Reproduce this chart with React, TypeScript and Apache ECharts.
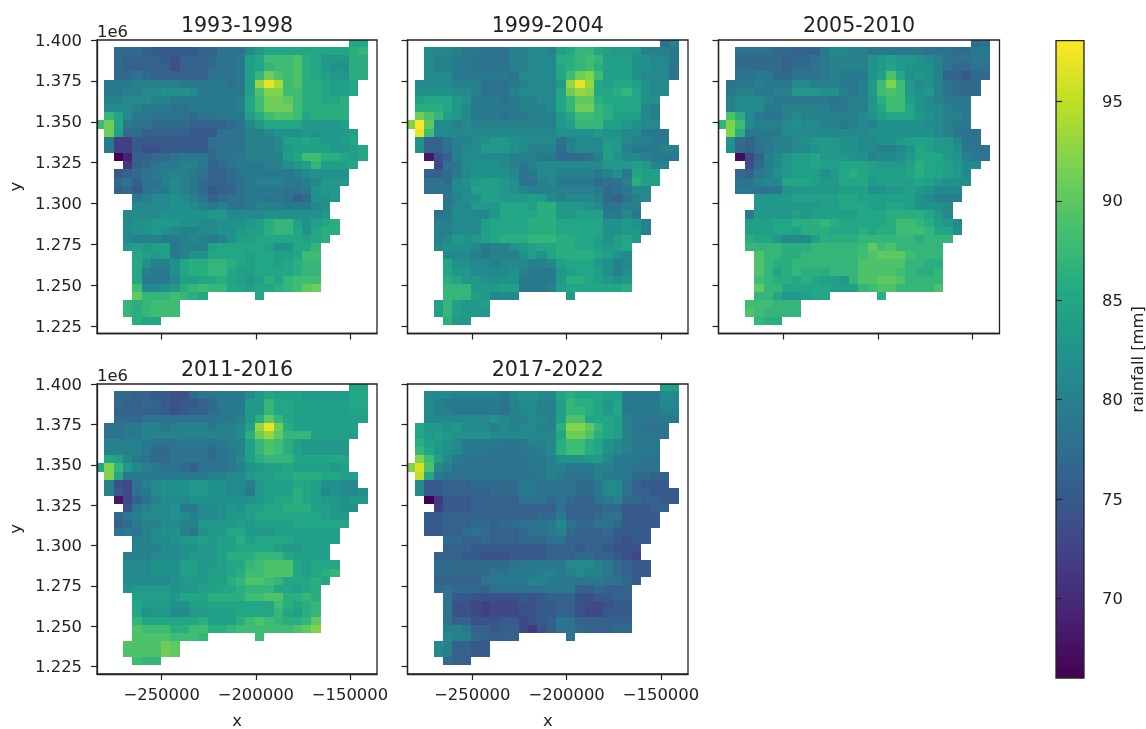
import React, { useEffect, useRef } from "react";
import * as echarts from "echarts";

const titles = ["1993-1998", "1999-2004", "2005-2010", "2011-2016", "2017-2022"];
const xTicks = [-250000, -200000, -150000];
const yTicks = [1.225, 1.25, 1.275, 1.3, 1.325, 1.35, 1.375, 1.4];
const barTicks = [70, 75, 80, 85, 90, 95];
const viridis = ["#440154", "#482475", "#414487", "#355f8d", "#2a788e", "#21918c", "#22a884", "#44bf70", "#7ad151", "#bddf26", "#fde725"];
// first occupied column of each raster row (0 is the northernmost row)
const rowStarts = [27, 2, 2, 2, 2, 1, 1, 1, 1, 1, 0, 1, 1, 1, 2, 3, 2, 2, 2, 4, 4, 3, 3, 3, 3, 3, 4, 4, 4, 4, 4, 4, 3, 3, 4];

const p1993 = [
  [85, 85],
  [77, 77, 77, 76, 75, 75, 75, 75, 75, 76, 76, 78, 78, 78, 81, 83, 85, 85, 85, 85, 85, 85, 85, 85, 85, 86, 87],
  [77, 76, 76, 76, 76, 75, 74, 76, 76, 76, 77, 78, 78, 79, 84, 85, 88, 88, 88, 89, 86, 85, 83, 83, 83, 86, 86],
  [77, 76, 76, 76, 76, 76, 74, 76, 76, 76, 77, 78, 78, 79, 84, 85, 87, 88, 88, 89, 86, 85, 83, 82, 82, 86, 86],
  [77, 77, 78, 77, 76, 76, 76, 76, 76, 76, 78, 78, 78, 79, 84, 87, 91, 89, 88, 89, 86, 85, 84, 83, 83, 86, 86],
  [79, 79, 79, 80, 80, 80, 80, 80, 79, 79, 79, 79, 79, 78, 79, 84, 93, 97, 94, 88, 89, 86, 86, 85, 84, 84, 85],
  [79, 79, 80, 80, 81, 81, 82, 82, 82, 81, 79, 79, 79, 79, 79, 84, 89, 92, 92, 88, 88, 86, 86, 85, 84, 84, 85],
  [80, 80, 81, 81, 81, 80, 80, 79, 79, 79, 79, 79, 79, 79, 80, 85, 88, 91, 91, 90, 88, 86, 86, 85, 85, 86],
  [81, 81, 81, 80, 79, 79, 79, 78, 78, 79, 79, 79, 79, 79, 80, 85, 88, 91, 91, 91, 88, 86, 86, 86, 86, 86],
  [87, 85, 81, 79, 79, 78, 78, 78, 78, 77, 78, 78, 79, 79, 79, 84, 86, 88, 89, 89, 88, 85, 86, 86, 86, 86],
  [88, 91, 85, 79, 78, 78, 77, 77, 77, 77, 76, 76, 76, 76, 77, 78, 81, 83, 85, 85, 85, 85, 83, 83, 83, 83, 84],
  [91, 84, 77, 77, 76, 76, 76, 76, 76, 75, 75, 75, 78, 78, 78, 80, 80, 81, 82, 82, 82, 83, 82, 83, 83, 83, 84],
  [79, 72, 72, 75, 75, 75, 75, 75, 75, 75, 75, 78, 78, 78, 78, 80, 80, 80, 81, 84, 84, 85, 84, 83, 83, 84, 85],
  [79, 72, 72, 75, 74, 74, 75, 75, 75, 75, 75, 77, 78, 78, 78, 80, 80, 80, 81, 83, 84, 84, 84, 84, 83, 83, 84, 85],
  [66, 69, 76, 76, 77, 77, 78, 79, 79, 79, 77, 78, 78, 79, 80, 80, 80, 80, 84, 85, 88, 88, 86, 86, 85, 84, 85],
  [71, 76, 77, 78, 79, 79, 80, 80, 79, 76, 77, 78, 79, 79, 79, 80, 80, 82, 83, 84, 87, 84, 84, 84, 85],
  [75, 76, 77, 78, 79, 80, 80, 80, 79, 78, 76, 76, 77, 78, 79, 79, 79, 79, 79, 80, 81, 82, 82, 82, 82],
  [77, 78, 76, 78, 78, 80, 81, 80, 79, 77, 76, 76, 77, 78, 79, 80, 80, 80, 79, 79, 80, 81, 83, 83, 83],
  [76, 77, 75, 78, 79, 79, 81, 80, 79, 77, 75, 76, 76, 78, 79, 79, 79, 79, 78, 78, 79, 82, 83, 83],
  [79, 80, 81, 81, 82, 81, 80, 78, 76, 77, 78, 78, 79, 79, 78, 79, 78, 76, 77, 82, 82, 83],
  [81, 81, 81, 81, 82, 82, 81, 80, 79, 80, 78, 78, 79, 80, 80, 80, 79, 79, 79, 81, 82],
  [81, 81, 81, 81, 82, 82, 82, 82, 82, 83, 83, 81, 81, 81, 81, 82, 82, 82, 82, 82, 82, 83],
  [81, 82, 82, 83, 83, 83, 82, 82, 81, 81, 82, 82, 82, 83, 84, 86, 87, 87, 84, 82, 84, 85, 86],
  [81, 82, 82, 83, 82, 81, 80, 80, 81, 81, 82, 82, 83, 84, 84, 86, 87, 87, 85, 82, 85, 86, 86],
  [81, 80, 80, 80, 79, 79, 80, 81, 80, 79, 80, 82, 84, 84, 85, 85, 85, 85, 85, 84, 85, 86],
  [83, 84, 83, 84, 84, 79, 80, 80, 80, 84, 85, 85, 85, 85, 85, 84, 82, 82, 85, 85, 87],
  [85, 84, 83, 84, 79, 80, 82, 82, 85, 85, 85, 85, 84, 85, 85, 84, 84, 85, 88, 88],
  [85, 82, 80, 80, 82, 85, 86, 86, 87, 87, 86, 85, 84, 85, 85, 84, 85, 86, 87, 87],
  [85, 80, 79, 79, 82, 85, 86, 86, 87, 87, 85, 84, 84, 85, 85, 85, 85, 86, 87, 87],
  [85, 79, 79, 79, 81, 84, 84, 85, 85, 86, 85, 84, 83, 84, 86, 85, 87, 88, 88, 88],
  [88, 81, 81, 82, 83, 86, 87, 88, 87, 87, 85, 85, 84, 85, 85, 86, 87, 88, 90, 91],
  [90, 87, 87, 87, 88, 87, 86, 85, 0, 0, 0, 0, 0, 85],
  [87, 86, 87, 88, 88, 88],
  [87, 86, 87, 88, 88, 88],
  [86, 85, 85],
];

const p1999 = [
  [78, 80],
  [81, 81, 81, 80, 79, 79, 78, 78, 78, 80, 80, 81, 81, 80, 84, 85, 87, 87, 85, 84, 83, 83, 83, 80, 80, 80, 79],
  [81, 80, 80, 79, 79, 78, 78, 78, 78, 80, 80, 81, 81, 81, 86, 86, 87, 88, 87, 84, 84, 84, 82, 82, 81, 81, 79],
  [81, 80, 80, 79, 79, 78, 78, 78, 78, 80, 80, 81, 81, 81, 85, 86, 87, 88, 86, 84, 84, 84, 82, 82, 81, 81, 78],
  [81, 81, 81, 79, 79, 79, 79, 79, 79, 78, 81, 81, 81, 81, 85, 88, 91, 92, 88, 84, 84, 84, 82, 81, 81, 81, 78],
  [81, 81, 81, 81, 80, 80, 80, 78, 78, 78, 79, 80, 81, 81, 81, 83, 93, 97, 93, 85, 84, 85, 85, 84, 82, 81, 81],
  [82, 82, 82, 82, 81, 81, 80, 78, 78, 78, 80, 81, 81, 81, 81, 85, 91, 93, 92, 85, 85, 86, 87, 85, 82, 81, 81],
  [84, 85, 85, 85, 83, 82, 79, 79, 79, 78, 79, 80, 80, 81, 81, 85, 87, 90, 90, 86, 85, 85, 85, 85, 82, 82],
  [86, 86, 86, 85, 83, 81, 79, 79, 79, 79, 79, 80, 80, 80, 81, 85, 87, 91, 91, 87, 86, 85, 85, 85, 81, 80],
  [91, 89, 87, 84, 83, 81, 79, 79, 79, 78, 79, 79, 80, 80, 80, 83, 85, 88, 88, 87, 86, 84, 84, 84, 81, 80],
  [92, 98, 90, 81, 81, 80, 81, 80, 80, 80, 80, 80, 80, 80, 80, 80, 83, 84, 87, 87, 87, 84, 84, 83, 82, 81, 81],
  [97, 88, 81, 81, 81, 81, 81, 81, 81, 81, 81, 81, 81, 81, 81, 82, 82, 82, 82, 83, 82, 82, 81, 81, 79, 79, 79],
  [82, 76, 76, 78, 80, 80, 81, 82, 83, 83, 82, 81, 81, 81, 81, 78, 80, 81, 81, 81, 83, 83, 81, 80, 80, 79, 79],
  [82, 76, 76, 78, 80, 81, 81, 83, 83, 83, 82, 81, 80, 80, 80, 77, 80, 81, 81, 81, 84, 83, 80, 79, 79, 79, 80, 80],
  [68, 74, 76, 80, 81, 81, 81, 81, 81, 80, 80, 80, 79, 79, 77, 77, 77, 78, 80, 84, 82, 81, 81, 80, 79, 79, 79],
  [73, 78, 79, 81, 82, 82, 82, 81, 80, 79, 80, 81, 81, 81, 81, 81, 81, 81, 83, 83, 83, 84, 83, 80, 80],
  [76, 76, 77, 79, 81, 82, 82, 82, 82, 81, 78, 79, 81, 81, 80, 80, 80, 80, 79, 80, 82, 79, 85, 84, 84],
  [78, 78, 77, 81, 82, 83, 84, 84, 83, 82, 78, 78, 80, 81, 79, 79, 79, 79, 77, 78, 78, 80, 86, 84, 84],
  [78, 78, 78, 81, 81, 84, 84, 84, 83, 82, 81, 80, 80, 80, 80, 80, 80, 80, 79, 77, 78, 79, 81, 81],
  [78, 80, 82, 82, 84, 84, 83, 83, 83, 84, 83, 81, 80, 81, 81, 81, 80, 77, 76, 78, 80, 81],
  [79, 81, 81, 83, 83, 83, 85, 85, 85, 84, 86, 86, 83, 83, 83, 82, 81, 78, 78, 80, 80],
  [78, 79, 81, 81, 81, 81, 83, 85, 85, 85, 85, 86, 86, 83, 83, 84, 84, 84, 79, 79, 81, 79],
  [80, 80, 81, 81, 81, 84, 85, 85, 85, 85, 86, 86, 86, 85, 85, 85, 85, 85, 82, 82, 83, 82, 80],
  [80, 80, 81, 81, 81, 84, 85, 85, 85, 85, 86, 86, 86, 85, 85, 85, 85, 85, 82, 82, 83, 83, 80],
  [80, 81, 83, 82, 83, 84, 85, 86, 86, 86, 87, 87, 87, 86, 86, 85, 85, 84, 82, 84, 85, 83],
  [81, 82, 82, 82, 81, 79, 80, 80, 82, 83, 84, 85, 85, 86, 86, 85, 85, 84, 83, 84, 85],
  [81, 81, 81, 80, 79, 80, 80, 80, 82, 84, 82, 85, 86, 86, 86, 86, 85, 84, 82, 81],
  [85, 82, 82, 81, 81, 80, 81, 81, 81, 80, 80, 81, 84, 85, 85, 85, 83, 82, 80, 81],
  [85, 83, 83, 81, 81, 81, 81, 82, 80, 79, 79, 79, 83, 84, 85, 85, 84, 82, 80, 82],
  [86, 85, 83, 83, 82, 82, 82, 82, 79, 79, 79, 79, 83, 86, 86, 85, 84, 83, 82, 83],
  [87, 87, 87, 83, 83, 83, 84, 84, 79, 79, 79, 80, 84, 85, 85, 85, 85, 85, 85, 86],
  [87, 87, 87, 84, 83, 81, 81, 81, 0, 0, 0, 0, 0, 83],
  [84, 87, 84, 83, 83, 84],
  [84, 87, 84, 83, 83, 83],
  [86, 83, 83],
];

const p2005 = [
  [77, 78],
  [78, 78, 78, 78, 77, 77, 76, 76, 76, 79, 81, 81, 80, 80, 79, 79, 79, 79, 79, 79, 78, 78, 78, 77, 77, 79, 79],
  [77, 77, 77, 77, 77, 76, 77, 77, 78, 79, 80, 80, 80, 80, 82, 83, 84, 83, 83, 82, 81, 80, 78, 78, 78, 79, 78],
  [77, 77, 77, 77, 77, 76, 77, 77, 78, 79, 80, 80, 80, 80, 82, 83, 85, 83, 82, 82, 82, 80, 78, 77, 77, 78, 78],
  [78, 78, 79, 79, 77, 77, 78, 78, 78, 79, 80, 79, 79, 79, 82, 84, 89, 85, 82, 83, 82, 80, 76, 76, 75, 77, 77],
  [78, 79, 79, 80, 79, 79, 79, 81, 81, 80, 80, 80, 79, 79, 80, 83, 88, 92, 88, 83, 81, 82, 80, 78, 77, 77, 77],
  [79, 80, 80, 79, 79, 80, 80, 83, 83, 83, 82, 82, 80, 79, 80, 83, 88, 89, 88, 83, 82, 83, 80, 78, 77, 77, 77],
  [80, 81, 81, 81, 80, 79, 79, 79, 79, 79, 79, 78, 79, 80, 80, 82, 86, 88, 88, 84, 82, 81, 80, 79, 79, 79],
  [80, 81, 81, 81, 79, 79, 80, 80, 80, 80, 80, 79, 79, 80, 80, 83, 85, 88, 88, 85, 82, 81, 81, 80, 79, 79],
  [89, 86, 81, 79, 78, 78, 80, 81, 80, 80, 80, 80, 80, 80, 81, 82, 84, 85, 85, 85, 83, 82, 81, 80, 80, 79],
  [87, 92, 88, 81, 80, 80, 80, 81, 82, 81, 81, 80, 80, 79, 80, 81, 80, 82, 82, 82, 82, 82, 81, 81, 80, 79, 79],
  [92, 86, 79, 79, 79, 79, 81, 81, 81, 81, 81, 81, 81, 81, 81, 82, 82, 82, 82, 82, 82, 82, 81, 80, 78, 78, 78],
  [82, 77, 76, 78, 79, 80, 80, 81, 82, 83, 83, 83, 82, 82, 81, 81, 82, 82, 83, 84, 84, 84, 83, 83, 81, 78, 78],
  [82, 77, 76, 78, 79, 80, 80, 81, 81, 82, 83, 83, 82, 82, 81, 81, 80, 80, 81, 82, 85, 84, 83, 83, 82, 79, 78, 78],
  [67, 73, 76, 80, 81, 83, 84, 84, 85, 83, 83, 83, 82, 82, 80, 81, 81, 82, 83, 85, 85, 85, 83, 82, 80, 79, 78],
  [74, 77, 80, 81, 83, 84, 84, 85, 84, 84, 85, 85, 85, 84, 83, 83, 83, 84, 86, 85, 85, 84, 83, 81, 81],
  [77, 76, 79, 80, 82, 83, 84, 84, 84, 82, 83, 85, 86, 85, 84, 84, 84, 84, 85, 86, 85, 85, 84, 83, 81],
  [78, 78, 80, 81, 81, 85, 85, 85, 84, 83, 83, 85, 85, 85, 83, 84, 84, 84, 84, 85, 84, 83, 82, 82, 82],
  [79, 79, 78, 78, 79, 82, 83, 83, 83, 83, 83, 84, 84, 84, 82, 82, 83, 83, 84, 83, 82, 81, 81, 81],
  [83, 83, 83, 83, 84, 84, 84, 84, 84, 85, 85, 84, 84, 84, 84, 84, 84, 82, 81, 80, 80, 80],
  [83, 83, 83, 83, 83, 83, 83, 84, 84, 85, 85, 85, 84, 84, 85, 85, 84, 82, 82, 82, 81],
  [79, 83, 83, 83, 83, 84, 83, 84, 84, 84, 84, 84, 85, 85, 85, 86, 86, 86, 86, 85, 83, 81],
  [84, 84, 84, 85, 85, 86, 86, 86, 87, 86, 85, 85, 85, 85, 85, 86, 88, 88, 87, 86, 84, 83, 81],
  [84, 84, 84, 85, 85, 84, 86, 86, 86, 85, 85, 85, 86, 85, 86, 86, 88, 88, 88, 87, 85, 85, 82],
  [86, 85, 85, 83, 81, 81, 81, 84, 86, 86, 86, 86, 87, 87, 87, 87, 87, 87, 86, 87, 87, 87],
  [87, 87, 87, 87, 86, 86, 86, 87, 87, 87, 87, 87, 88, 90, 88, 89, 87, 87, 87, 87, 87],
  [89, 87, 87, 86, 86, 87, 87, 87, 87, 87, 87, 88, 89, 90, 90, 90, 88, 87, 87, 87],
  [89, 87, 86, 86, 87, 87, 87, 87, 87, 87, 87, 89, 89, 89, 89, 89, 87, 87, 86, 86],
  [89, 87, 85, 86, 87, 86, 86, 86, 87, 87, 87, 89, 89, 89, 89, 88, 87, 86, 86, 87],
  [88, 87, 86, 86, 85, 86, 85, 84, 84, 83, 87, 89, 89, 90, 90, 89, 87, 87, 87, 87],
  [90, 87, 87, 85, 85, 85, 85, 85, 84, 84, 84, 87, 88, 89, 89, 87, 87, 87, 87, 89],
  [87, 87, 85, 83, 83, 84, 85, 85, 0, 0, 0, 0, 0, 86],
  [88, 88, 88, 87, 87, 87],
  [89, 88, 87, 87, 87, 87],
  [87, 86, 86],
];

const p2011 = [
  [85, 85],
  [77, 77, 76, 76, 75, 75, 74, 74, 77, 78, 78, 79, 79, 79, 81, 83, 85, 84, 84, 84, 83, 83, 83, 83, 83, 85, 85],
  [77, 76, 76, 77, 76, 75, 74, 75, 75, 76, 77, 79, 79, 79, 83, 83, 87, 85, 85, 84, 84, 84, 84, 84, 84, 85, 85],
  [76, 76, 76, 76, 76, 75, 74, 75, 76, 76, 77, 78, 79, 79, 83, 83, 87, 85, 85, 84, 84, 84, 84, 84, 84, 85, 85],
  [77, 77, 77, 78, 78, 78, 78, 78, 78, 78, 78, 79, 79, 80, 83, 86, 90, 87, 85, 84, 84, 84, 84, 84, 84, 84, 84],
  [78, 78, 79, 79, 80, 80, 79, 80, 80, 80, 80, 79, 80, 80, 81, 84, 93, 97, 91, 86, 84, 84, 84, 84, 84, 84, 84],
  [78, 78, 79, 79, 80, 80, 80, 80, 80, 80, 80, 80, 80, 80, 81, 86, 91, 93, 90, 87, 87, 87, 84, 84, 84, 84, 84],
  [80, 80, 80, 80, 79, 78, 78, 78, 79, 79, 79, 78, 79, 80, 80, 84, 87, 89, 88, 86, 84, 83, 83, 83, 83, 83],
  [80, 80, 80, 80, 79, 77, 77, 78, 78, 78, 78, 77, 78, 79, 80, 84, 87, 89, 88, 86, 84, 83, 83, 83, 83, 83],
  [85, 84, 81, 79, 78, 77, 77, 78, 78, 78, 78, 77, 78, 79, 81, 84, 86, 87, 87, 87, 85, 85, 85, 85, 85, 85],
  [85, 92, 87, 83, 81, 80, 79, 78, 78, 77, 76, 78, 78, 78, 79, 80, 82, 83, 84, 84, 85, 84, 84, 84, 84, 83, 84],
  [92, 85, 79, 79, 79, 79, 79, 79, 79, 79, 79, 80, 80, 81, 81, 83, 84, 84, 85, 85, 86, 86, 86, 85, 85, 84, 84],
  [80, 74, 73, 78, 80, 81, 82, 82, 82, 83, 83, 82, 82, 81, 81, 80, 83, 84, 84, 84, 85, 85, 84, 82, 82, 81, 81],
  [80, 75, 73, 78, 79, 81, 82, 82, 82, 83, 83, 82, 82, 81, 81, 79, 83, 84, 84, 84, 86, 85, 84, 81, 82, 81, 81, 82],
  [68, 73, 76, 78, 80, 81, 81, 81, 82, 82, 82, 82, 82, 82, 82, 83, 84, 85, 85, 86, 85, 84, 83, 83, 82, 83, 83],
  [74, 79, 80, 81, 81, 82, 79, 79, 81, 81, 82, 83, 82, 84, 84, 85, 85, 86, 86, 86, 84, 84, 83, 82, 82],
  [77, 79, 80, 81, 81, 81, 82, 81, 80, 81, 81, 82, 83, 83, 84, 85, 85, 85, 85, 85, 85, 85, 84, 83, 83],
  [76, 77, 79, 80, 80, 81, 81, 80, 80, 83, 83, 83, 83, 84, 83, 84, 84, 84, 84, 85, 85, 85, 85, 85, 85],
  [78, 79, 78, 80, 81, 82, 82, 80, 79, 82, 83, 83, 85, 85, 83, 83, 83, 84, 84, 84, 84, 84, 84, 84],
  [80, 80, 81, 81, 82, 83, 83, 84, 83, 84, 84, 86, 84, 85, 85, 85, 85, 84, 84, 84, 84, 84],
  [80, 80, 80, 81, 81, 82, 82, 83, 83, 84, 84, 85, 85, 85, 85, 84, 83, 83, 84, 84, 84],
  [80, 80, 80, 81, 81, 81, 82, 83, 83, 83, 84, 86, 86, 86, 87, 87, 87, 85, 84, 84, 84, 84],
  [81, 81, 81, 82, 82, 82, 84, 84, 83, 83, 84, 85, 85, 87, 88, 89, 89, 89, 85, 84, 85, 85, 85],
  [81, 81, 81, 82, 82, 82, 84, 84, 83, 84, 84, 85, 86, 88, 88, 89, 89, 89, 85, 84, 85, 86, 87],
  [81, 81, 81, 81, 81, 82, 83, 83, 83, 84, 84, 86, 87, 89, 89, 88, 87, 85, 85, 85, 86, 85],
  [82, 83, 83, 83, 83, 82, 83, 83, 84, 84, 85, 85, 86, 87, 87, 87, 85, 85, 84, 85, 86],
  [84, 84, 84, 84, 83, 85, 85, 85, 86, 86, 86, 86, 88, 88, 89, 89, 86, 86, 87, 86],
  [85, 83, 83, 83, 82, 82, 84, 84, 85, 85, 85, 85, 85, 85, 85, 88, 86, 85, 86, 87],
  [85, 82, 83, 83, 81, 81, 83, 83, 84, 84, 84, 85, 85, 85, 85, 87, 85, 84, 86, 87],
  [87, 85, 85, 85, 85, 85, 85, 86, 84, 84, 84, 86, 88, 89, 88, 87, 86, 86, 87, 90],
  [89, 88, 88, 88, 86, 86, 88, 88, 86, 86, 87, 88, 88, 88, 88, 88, 88, 89, 90, 92],
  [89, 89, 89, 89, 88, 88, 88, 87, 0, 0, 0, 0, 0, 88],
  [89, 89, 89, 89, 91, 90],
  [89, 89, 89, 89, 91, 90],
  [88, 87, 87],
];

const p2017 = [
  [84, 84],
  [81, 81, 81, 80, 80, 80, 80, 80, 79, 81, 82, 82, 81, 81, 85, 86, 85, 85, 85, 84, 84, 79, 79, 79, 79, 81, 81],
  [81, 80, 79, 79, 79, 79, 79, 79, 78, 80, 81, 81, 80, 80, 84, 87, 86, 86, 85, 83, 85, 79, 79, 79, 79, 81, 81],
  [81, 80, 80, 79, 79, 79, 79, 79, 78, 80, 81, 81, 80, 80, 84, 87, 87, 86, 85, 83, 85, 79, 79, 79, 79, 80, 80],
  [81, 81, 81, 81, 81, 81, 81, 82, 81, 80, 80, 81, 81, 80, 84, 89, 89, 85, 85, 85, 84, 80, 79, 79, 78, 79, 79],
  [85, 83, 83, 82, 83, 81, 81, 81, 80, 81, 80, 81, 81, 80, 80, 86, 92, 92, 90, 87, 85, 84, 80, 79, 78, 78, 78],
  [85, 83, 84, 83, 82, 82, 82, 82, 81, 81, 81, 81, 81, 81, 81, 85, 91, 91, 89, 86, 85, 84, 80, 79, 79, 78, 78],
  [86, 84, 83, 82, 81, 79, 79, 79, 79, 78, 78, 79, 80, 80, 81, 86, 88, 88, 86, 85, 82, 81, 80, 79, 79, 79],
  [87, 85, 83, 82, 81, 79, 79, 79, 78, 78, 78, 79, 79, 80, 81, 86, 88, 88, 86, 85, 82, 81, 80, 79, 79, 79],
  [92, 88, 84, 81, 79, 78, 78, 78, 78, 78, 78, 78, 79, 79, 80, 82, 82, 82, 83, 83, 81, 79, 79, 79, 78, 78],
  [92, 96, 89, 81, 80, 78, 78, 78, 78, 78, 78, 78, 78, 79, 79, 80, 80, 79, 79, 79, 80, 80, 79, 79, 78, 78, 78],
  [95, 85, 79, 78, 78, 78, 78, 78, 78, 78, 78, 78, 78, 79, 80, 79, 78, 78, 78, 80, 79, 79, 79, 77, 77, 76, 76],
  [81, 75, 75, 76, 76, 76, 77, 77, 77, 77, 77, 79, 79, 78, 78, 78, 78, 77, 77, 79, 81, 81, 78, 76, 75, 75, 75],
  [81, 75, 75, 76, 76, 76, 76, 76, 77, 77, 77, 79, 79, 78, 78, 78, 78, 77, 77, 79, 81, 81, 78, 76, 76, 75, 75, 75],
  [66, 71, 75, 75, 75, 76, 76, 76, 76, 76, 78, 78, 78, 77, 78, 77, 76, 76, 78, 79, 80, 77, 77, 76, 76, 75, 75],
  [72, 75, 75, 75, 76, 76, 76, 76, 76, 76, 76, 76, 76, 78, 76, 76, 76, 76, 77, 77, 75, 75, 75, 76, 76],
  [75, 75, 76, 76, 76, 76, 76, 76, 76, 76, 76, 76, 77, 77, 79, 76, 76, 76, 77, 78, 78, 75, 75, 75, 75],
  [75, 75, 76, 76, 76, 77, 77, 76, 77, 77, 78, 78, 78, 79, 81, 78, 77, 77, 78, 78, 77, 75, 75, 75, 75],
  [75, 75, 76, 76, 77, 78, 77, 76, 76, 76, 77, 78, 78, 79, 80, 77, 76, 76, 76, 77, 75, 75, 75, 75],
  [77, 77, 76, 76, 77, 76, 76, 76, 77, 77, 77, 78, 78, 76, 76, 76, 76, 76, 75, 74, 75, 75],
  [76, 76, 76, 75, 75, 75, 75, 75, 75, 75, 75, 76, 76, 76, 75, 76, 76, 75, 74, 74, 74],
  [76, 76, 76, 75, 75, 74, 74, 74, 75, 75, 75, 75, 76, 76, 76, 77, 77, 76, 76, 75, 74, 73],
  [77, 77, 77, 77, 77, 77, 77, 77, 78, 79, 79, 79, 79, 79, 81, 81, 81, 80, 79, 77, 76, 75, 75],
  [77, 77, 77, 77, 77, 77, 78, 78, 79, 79, 79, 80, 80, 79, 80, 81, 80, 80, 79, 77, 76, 75, 75],
  [76, 76, 76, 76, 76, 78, 79, 79, 79, 79, 80, 80, 79, 79, 79, 78, 79, 79, 78, 78, 77, 75],
  [77, 78, 77, 77, 77, 76, 78, 78, 78, 78, 78, 78, 79, 79, 79, 76, 76, 77, 76, 76, 76],
  [78, 75, 75, 74, 74, 74, 74, 74, 75, 74, 75, 76, 76, 76, 74, 74, 75, 75, 76, 76],
  [79, 74, 74, 73, 72, 73, 73, 73, 74, 74, 75, 75, 76, 76, 74, 73, 73, 74, 75, 75],
  [78, 74, 74, 73, 72, 73, 73, 73, 74, 74, 75, 75, 76, 76, 74, 73, 73, 75, 75, 75],
  [78, 76, 76, 74, 74, 74, 75, 75, 73, 74, 75, 76, 79, 78, 76, 76, 76, 76, 76, 76],
  [80, 80, 79, 76, 76, 75, 76, 76, 73, 71, 74, 76, 78, 78, 77, 76, 76, 76, 77, 77],
  [81, 80, 80, 77, 76, 76, 76, 76, 0, 0, 0, 0, 0, 78],
  [81, 80, 76, 76, 75, 75],
  [81, 80, 76, 76, 75, 75],
  [77, 76, 76],
];

const panelData = [p1993, p1999, p2005, p2011, p2017];
const gridBoxes = [
  { left: 97, top: 40, width: 280, height: 293.5 },
  { left: 407.5, top: 40, width: 280.5, height: 293.5 },
  { left: 718.5, top: 40, width: 281, height: 293.5 },
  { left: 97, top: 384, width: 280, height: 294 },
  { left: 407.5, top: 384, width: 280.5, height: 294 },
];

const font = "DejaVu Sans";
const ink = "#222";
const cellW = 5000;
const cellH = 0.005;
const xEdge = -285500;
const yEdge = 1.4008;
const cbMin = 66;
const cbMax = 98.05;

function flatten(rows: number[][]) {
  const out: number[][] = [];
  rows.forEach((vals, r) => {
    vals.forEach((v, i) => {
      if (!v) return;
      const col = rowStarts[r] + i;
      out.push([xEdge + cellW * (col + 0.5), yEdge - cellH * (r + 0.5), v]);
    });
  });
  return out;
}

function pixelRect(a: number[], b: number[], fill: string) {
  const x0 = Math.round(a[0]);
  const y0 = Math.round(a[1]);
  const x1 = Math.round(b[0]);
  const y1 = Math.round(b[1]);
  return {
    type: "rect",
    shape: { x: x0, y: y0, width: x1 - x0, height: y1 - y0 },
    style: { fill },
  };
}

function renderCell(_: any, api: any) {
  const x = api.value(0);
  const y = api.value(1);
  const a = api.coord([x - cellW / 2, y + cellH / 2]);
  const b = api.coord([x + cellW / 2, y - cellH / 2]);
  return pixelRect(a, b, api.visual("color"));
}

function renderLevel(_: any, api: any) {
  const v = api.value(1);
  const a = api.coord([0, v + (cbMax - cbMin) / 256]);
  const b = api.coord([1, v]);
  return pixelRect(a, b, api.visual("color"));
}

export default function App() {
  const ref = useRef<HTMLDivElement>(null);
  useEffect(() => {
    document.body.style.margin = "0";
    document.body.style.background = "#fff";
    const chart = echarts.init(ref.current!, undefined, { renderer: "svg" });
    const labelStyle = { color: ink, fontFamily: font, fontSize: 16.4 };
    const grids: any[] = gridBoxes.map((b) => ({
      ...b,
      show: true,
      z: 5,
      backgroundColor: "transparent",
      borderColor: ink,
      borderWidth: 1.3,
      containLabel: false,
    }));
    const xAxes: any[] = gridBoxes.map((_, i) => ({
      type: "value",
      gridIndex: i,
      min: -284340,
      max: -135670,
      z: 5,
      splitLine: { show: false },
      axisLine: { show: true, onZero: false, lineStyle: { color: ink, width: 1.3 } },
      axisTick: { show: true, length: 6, customValues: xTicks, lineStyle: { color: ink, width: 1.2 } },
      axisLabel: {
        show: i >= 3,
        ...labelStyle,
        margin: 12,
        customValues: xTicks,
        formatter: (v: number) => String(v).replace("-", "\u2212"),
      },
      name: i >= 3 ? "x" : "",
      nameLocation: "middle",
      nameGap: 38,
      nameTextStyle: labelStyle,
    }));
    const yAxes: any[] = gridBoxes.map((_, i) => ({
      type: "value",
      gridIndex: i,
      min: 1.2205,
      max: 1.4,
      z: 5,
      splitLine: { show: false },
      axisLine: { show: true, onZero: false, lineStyle: { color: ink, width: 1.3 } },
      axisTick: { show: true, length: 6, customValues: yTicks, lineStyle: { color: ink, width: 1.2 } },
      axisLabel: {
        show: i === 0 || i === 3,
        ...labelStyle,
        margin: 15,
        customValues: yTicks,
        formatter: (v: number) => v.toFixed(3),
      },
      name: i === 0 || i === 3 ? "y" : "",
      nameLocation: "middle",
      nameGap: 74,
      nameTextStyle: labelStyle,
    }));
    grids.push({
      left: 1056,
      top: 40.7,
      width: 33,
      height: 637.3,
      show: true,
      z: 5,
      backgroundColor: "transparent",
      borderColor: ink,
      borderWidth: 1.3,
    });
    xAxes.push({ type: "value", gridIndex: 5, min: 0, max: 1, show: false });
    yAxes.push({
      type: "value",
      gridIndex: 5,
      min: cbMin,
      max: cbMax,
      position: "right",
      z: 5,
      splitLine: { show: false },
      axisLine: { show: false },
      axisTick: { show: true, length: 6, customValues: barTicks, lineStyle: { color: ink, width: 1.2 } },
      axisLabel: { ...labelStyle, margin: 18, customValues: barTicks, formatter: (v: number) => String(v) },
      name: "rainfall [mm]",
      nameLocation: "middle",
      nameGap: 45,
      nameRotate: 90,
      nameTextStyle: labelStyle,
    });

    const levels: number[][] = [];
    for (let i = 0; i < 256; i++) {
      const v = cbMin + ((cbMax - cbMin) * i) / 256;
      levels.push([0.5, v, v]);
    }

    const series: any[] = panelData.map((rows, i) => ({
      type: "custom",
      xAxisIndex: i,
      yAxisIndex: i,
      coordinateSystem: "cartesian2d",
      clip: true,
      renderItem: renderCell,
      encode: { x: 0, y: 1 },
      data: flatten(rows),
    }));
    series.push({
      type: "custom",
      xAxisIndex: 5,
      yAxisIndex: 5,
      coordinateSystem: "cartesian2d",
      clip: true,
      renderItem: renderLevel,
      encode: { x: 0, y: 1 },
      data: levels,
    });

    chart.setOption({
      animation: false,
      backgroundColor: "#fff",
      title: titles.map((t, i) => ({
        text: t,
        left: gridBoxes[i].left + gridBoxes[i].width / 2 - 5,
        top: gridBoxes[i].top - 31,
        textAlign: "center",
        textStyle: { color: ink, fontFamily: font, fontSize: 20.6, fontWeight: "normal" },
      })),
      grid: grids,
      xAxis: xAxes,
      yAxis: yAxes,
      visualMap: {
        show: false,
        type: "continuous",
        min: cbMin,
        max: cbMax,
        dimension: 2,
        seriesIndex: series.map((_, i) => i),
        inRange: { color: viridis },
      },
      graphic: [0, 3].map((i) => ({
        type: "text",
        x: gridBoxes[i].left,
        y: gridBoxes[i].top - 17,
        style: { text: "1e6", fill: ink, fontFamily: font, fontSize: 16.4 },
      })),
      series,
    });
    return () => chart.dispose();
  }, []);
  return <div ref={ref} style={{ position: "absolute", left: 0, top: 0, width: 1146, height: 729, filter: "blur(0.7px)" }} />;
}
